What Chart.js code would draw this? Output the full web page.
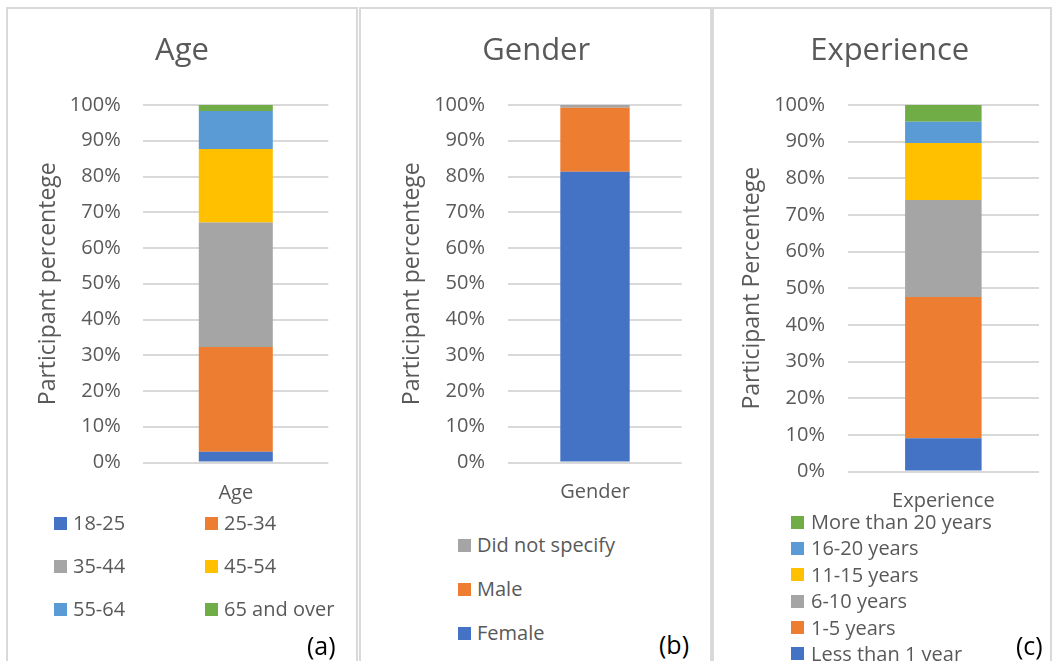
<!DOCTYPE html>
<html>
<head>
<meta charset="utf-8">
<title>Participant demographics</title>
<script src="https://cdn.jsdelivr.net/npm/chart.js@4.4.1/dist/chart.umd.min.js"></script>
<style>
  html, body { margin: 0; padding: 0; background: #fff; width: 1054px; height: 661px; overflow: hidden; font-family: "Open Sans", sans-serif; }
  .panel { position: absolute; top: 7px; height: 700px; border: 2px solid #d9d9d9; border-bottom: none; box-sizing: border-box; }
  canvas.chart { position: absolute; top: 0; }
  .lg-box { position: absolute; width: 13px; height: 13px; }
  .lg-text { position: absolute; color: #595959; font-size: 20px; line-height: 24px; white-space: nowrap; }
  .tag { position: absolute; color: #000; font-size: 25px; line-height: 30px; }
</style>
</head>
<body>
<div class="panel" style="left:6px;width:352px;"></div>
<div class="panel" style="left:359px;width:353px;"></div>
<div class="panel" style="left:712px;width:340px;"></div>

<canvas class="chart" id="ageChart"></canvas>
<canvas class="chart" id="genderChart"></canvas>
<canvas class="chart" id="experienceChart"></canvas>

<script>
// Share of participants (%) in each group
const ageCategories = ['18-25', '25-34', '35-44', '45-54', '55-64', '65 and over'];
const ageValues = [3.0, 29.3, 34.8, 20.6, 10.6, 1.7];

const genderCategories = ['Female', 'Male', 'Did not specify'];
const genderValues = [81.3, 17.9, 0.8];

const experienceCategories = ['Less than 1 year', '1-5 years', '6-10 years', '11-15 years', '16-20 years', 'More than 20 years'];
const experienceValues = [9.1, 38.5, 26.5, 15.5, 5.8, 4.6];

// Percentage axis: 0% .. 100% in steps of 10
const percentTicks = [0, 10, 20, 30, 40, 50, 60, 70, 80, 90, 100];

// Office palette, in stacking order
const seriesColors = ['#4472C4', '#ED7D31', '#A5A5A5', '#FFC000', '#5B9BD5', '#70AD47'];

const FONT = '"Open Sans", sans-serif';
const TEXT_GREY = '#595959';
const TITLE_SIZE = 31, AXIS_TITLE_SIZE = 23, TICK_SIZE = 20;

// Page geometry of each panel (pixels)
const panels = [
  {
    canvasId: 'ageChart', title: 'Age', axisTitle: 'Participant percentege', xLabel: 'Age',
    categories: ageCategories, values: ageValues,
    canvas: { left: 8, width: 348, height: 515 },
    plot: { left: 143.3, right: 328.3, top: 105, bottom: 462.5 },
    titleX: 182, titleY: 51, axisTitleX: 48, tickRight: 120.7, xLabelY: 493,
    legend: { order: 'forward', columns: [54, 205], rows: [523, 566, 609], textGap: 19 },
    tag: { text: '(a)', left: 307, centerY: 645 }
  },
  {
    canvasId: 'genderChart', title: 'Gender', axisTitle: 'Participant percentege', xLabel: 'Gender',
    categories: genderCategories, values: genderValues,
    canvas: { left: 362, width: 347, height: 515 },
    plot: { left: 508.3, right: 681.7, top: 105, bottom: 462.5 },
    titleX: 536.2, titleY: 51, axisTitleX: 412.5, tickRight: 485, xLabelY: 492.5,
    legend: { order: 'reverse', columns: [458], rows: [545, 589, 633], textGap: 19 },
    tag: { text: '(b)', left: 659, centerY: 644 }
  },
  {
    canvasId: 'experienceChart', title: 'Experience', axisTitle: 'Participant Percentege', xLabel: 'Experience',
    categories: experienceCategories, values: experienceValues,
    canvas: { left: 715, width: 334, height: 520 },
    plot: { left: 847.7, right: 1039, top: 105, bottom: 471.5 },
    titleX: 889.7, titleY: 51, axisTitleX: 752, tickRight: 825, xLabelY: 501.5,
    legend: { order: 'reverse', columns: [791], rows: [522, 548, 574.5, 601, 627.5, 653.5], textGap: 20 },
    tag: { text: '(c)', left: 1016, centerY: 645 }
  }
];

function buildChart(p) {
  const cl = p.canvas.left, cw = p.canvas.width, ch = p.canvas.height;
  const plotL = p.plot.left - cl, plotR = p.plot.right - cl;
  const padRight = cw - plotR;
  const padLeft = 2 * (p.titleX - cl) - plotR;          // keeps the title centred at titleX
  const yWidth = plotL - padLeft;
  const yTitlePad = (p.axisTitleX - cl) - padLeft - AXIS_TITLE_SIZE / 2;
  const yTickPad = plotL - (p.tickRight - cl);
  const titleLH = TITLE_SIZE * 1.2;
  const titlePadTop = p.titleY - titleLH / 2;
  const titlePadBottom = p.plot.top - p.titleY - titleLH / 2;
  const xHeight = ch - p.plot.bottom;
  const xTickPad = p.xLabelY - p.plot.bottom - TICK_SIZE * 1.2 / 2;

  const el = document.getElementById(p.canvasId);
  el.width = cw; el.height = ch;
  el.style.left = cl + 'px';
  el.style.width = cw + 'px'; el.style.height = ch + 'px';

  const datasets = p.categories.map((name, i) => ({
    label: name,
    data: [p.values[i]],
    backgroundColor: seriesColors[i],
    borderWidth: 0,
    categoryPercentage: 0.4,
    barPercentage: 1
  }));

  return new Chart(el, {
    type: 'bar',
    data: { labels: [p.xLabel], datasets },
    options: {
      responsive: false,
      animation: false,
      devicePixelRatio: 1,
      layout: { padding: { left: padLeft, right: padRight, top: 0, bottom: 0 } },
      plugins: {
        legend: { display: false },
        tooltip: { enabled: false },
        title: {
          display: true, text: p.title, color: TEXT_GREY,
          font: { family: FONT, size: TITLE_SIZE, weight: 'normal', lineHeight: 1.2 },
          padding: { top: titlePadTop, bottom: titlePadBottom }
        }
      },
      scales: {
        x: {
          stacked: true,
          grid: { display: false, drawTicks: false },
          border: { display: false },
          ticks: { color: TEXT_GREY, font: { family: FONT, size: TICK_SIZE, lineHeight: 1.2 }, padding: xTickPad },
          afterFit: s => { s.height = xHeight; }
        },
        y: {
          stacked: true,
          min: percentTicks[0], max: percentTicks[percentTicks.length - 1],
          afterBuildTicks: s => { s.ticks = percentTicks.map(v => ({ value: v })); },
          grid: { color: '#d9d9d9', lineWidth: 2, drawTicks: false },
          border: { display: false },
          ticks: {
            color: TEXT_GREY, font: { family: FONT, size: TICK_SIZE, lineHeight: 1.2 }, padding: yTickPad,
            callback: v => v + '%'
          },
          title: {
            display: true, text: p.axisTitle, color: TEXT_GREY,
            font: { family: FONT, size: AXIS_TITLE_SIZE, lineHeight: 1 },
            padding: { top: yTitlePad, bottom: 0 }
          },
          afterFit: s => { s.width = yWidth; }
        }
      }
    }
  });
}

function buildLegend(chart, p) {
  const items = chart.data.datasets.map(d => ({ text: d.label, color: d.backgroundColor }));
  if (p.legend.order === 'reverse') items.reverse();
  const cols = p.legend.columns.length;
  items.forEach((it, k) => {
    const x = p.legend.columns[k % cols];
    const y = p.legend.rows[Math.floor(k / cols)];
    const box = document.createElement('div');
    box.className = 'lg-box';
    box.style.left = x + 'px';
    box.style.top = (y - 6.5) + 'px';
    box.style.background = it.color;
    document.body.appendChild(box);
    const t = document.createElement('div');
    t.className = 'lg-text';
    t.style.left = (x + p.legend.textGap) + 'px';
    t.style.top = (y - 12) + 'px';
    t.textContent = it.text;
    document.body.appendChild(t);
  });
  const tag = document.createElement('div');
  tag.className = 'tag';
  tag.style.left = p.tag.left + 'px';
  tag.style.top = (p.tag.centerY - 15) + 'px';
  tag.textContent = p.tag.text;
  document.body.appendChild(tag);
}

panels.forEach(p => {
  const chart = buildChart(p);
  buildLegend(chart, p);
});
</script>
</body>
</html>
